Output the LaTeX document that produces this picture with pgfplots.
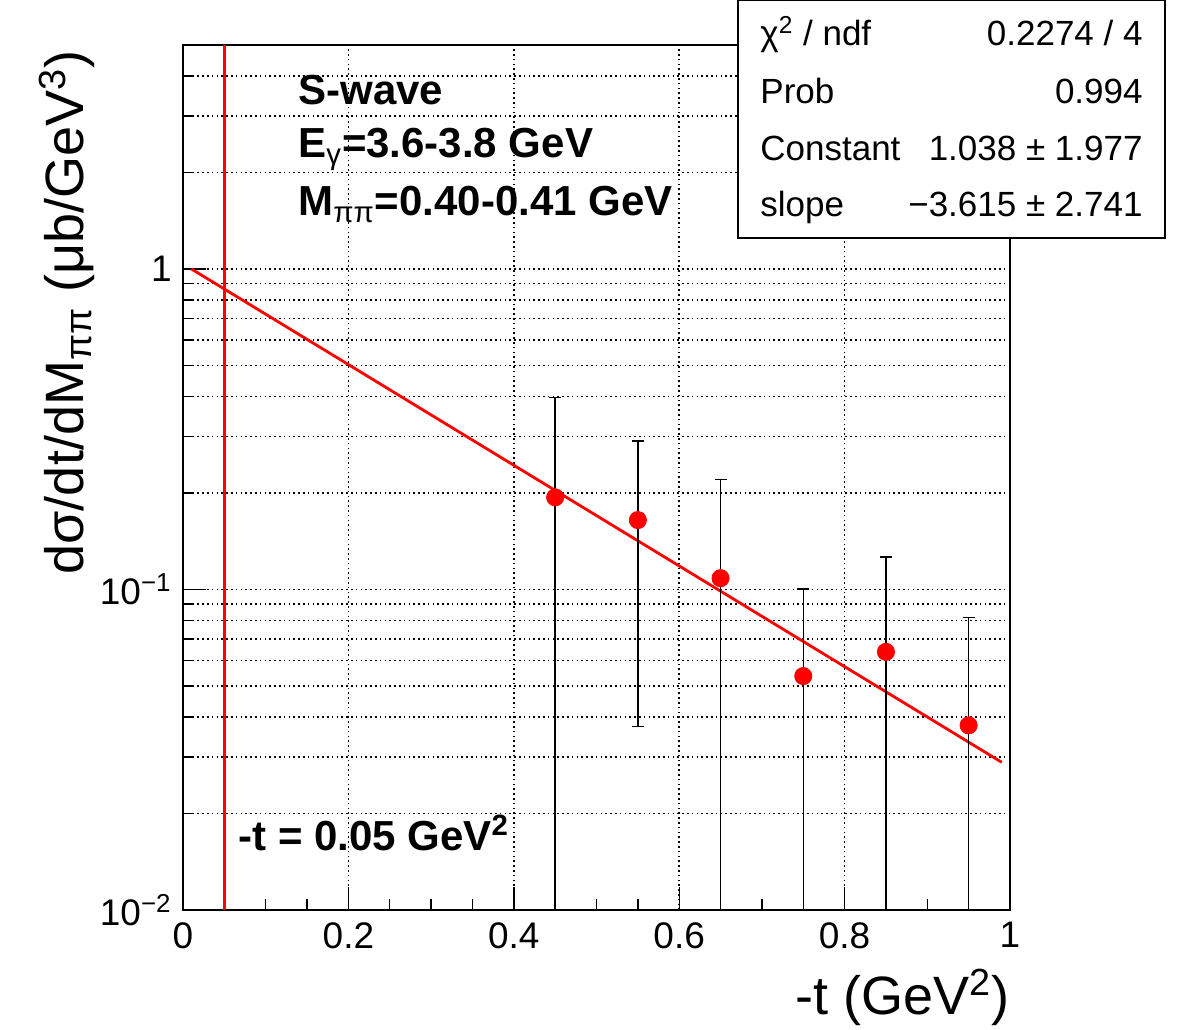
\documentclass[border=0pt]{standalone}
\usepackage{fontspec}
\setmainfont{Liberation Sans}
\usepackage{pgfplots}
\pgfplotsset{compat=1.18}

% -t bins, cross section, upper / lower errors (lower ends below the axis are clipped)
\usepackage{pgfplotstable}
\pgfplotstableread{
t     v       ep      em
0.45  0.1939  0.203   0.1929
0.55  0.1647  0.1255  0.1273
0.65  0.1085  0.1118  0.1075
0.75  0.0537  0.0465  0.0465
0.85  0.0639  0.0626  0.0629
0.95  0.0377  0.0441  0.0367
}\swave

\begin{document}
\begin{tikzpicture}
\useasboundingbox (-91.5pt,-59.5pt) rectangle (500pt,455pt);
\begin{axis}[
  scale only axis, width=413.5pt, height=432.5pt,
  xmin=0, xmax=1, ymin=0.01, ymax=5,
  ymode=log,
  xtick={0,0.2,0.4,0.6,0.8,1}, minor x tick num=3,
  ytick={0.01,0.1,1},
  yticklabels={10\textsuperscript{−2},10\textsuperscript{−1},1},
  minor ytick={0.02,0.03,0.04,0.05,0.06,0.07,0.08,0.09,0.2,0.3,0.4,0.5,0.6,0.7,0.8,0.9,2,3,4,5},
  tick align=inside, xtick pos=bottom, ytick pos=left,
  axis line style={line width=0.8pt},
  xtick style={black, line width=0.7pt},
  ytick style={black, line width=0.7pt},
  major tick length=11.5pt, minor tick length=5.5pt,
  xmajorgrids, ymajorgrids, yminorgrids,
  major grid style={black, line width=0.8pt, dash pattern=on 0.8pt off 1.6pt},
  minor grid style={black, line width=0.8pt, dash pattern=on 0.8pt off 1.6pt},
  tick label style={font=\fontsize{18.5}{18.5}\selectfont, inner sep=0pt},
  /pgf/number format/assume math mode=true,
  xticklabel shift=6pt, yticklabel shift=5.5pt,
  xlabel={-t (GeV\textsuperscript{2})},
  xlabel style={font=\fontsize{27}{27}\selectfont, at={(axis description cs:1,-0.101)}, anchor=east, inner sep=0pt},
  ylabel={dσ/dt/dM\textsubscript{ππ} (μb/GeV\textsuperscript{3})},
  ylabel style={font=\fontsize{27}{27}\selectfont, at={(axis description cs:-0.140,0.994)}, anchor=east, inner sep=0pt},
]
\addplot[red, line width=1.5pt] coordinates {(0.05,0.01) (0.05,5)};
\addplot[red, line width=1.4pt] coordinates {(0.01,1.001) (0.99,0.0289)};
\addplot[only marks, mark=*, mark size=4.3pt, red, mark options={draw=red, fill=red},
  error bars/.cd, y dir=both, y explicit,
  error bar style={black, line width=0.75pt},
  error mark options={rotate=90, mark size=3pt, black, line width=0.75pt}]
  table[x=t, y=v, y error plus=ep, y error minus=em] {\swave};

\begin{scope}[every node/.style={anchor=base west, inner sep=0pt, font=\bfseries\fontsize{21}{21}\selectfont}]
\node at (axis cs:0.139,3.262) {S-wave};
\node at (axis cs:0.139,2.223) {E\textsubscript{\normalfont γ}=3.6-3.8 GeV};
\node at (axis cs:0.139,1.465) {M\textsubscript{\normalfont ππ}=0.40-0.41 GeV};
\node at (axis cs:0.0665,0.01532) {-t = 0.05 GeV\textsuperscript{2}};
\end{scope}
\end{axis}

% fit statistics box
\filldraw[draw=black, fill=white, line width=0.8pt] (277.5pt,336pt) rectangle (491pt,455pt);
\begin{scope}[every node/.style={inner sep=0pt, font=\fontsize{17.5}{17.5}\selectfont}]
\node[anchor=base west] at (288.5pt,432pt) {χ\textsuperscript{2} / ndf};
\node[anchor=base east] at (480pt,432pt) {0.2274 / 4};
\node[anchor=base west] at (288.5pt,403pt) {Prob};
\node[anchor=base east] at (480pt,403pt) {0.994};
\node[anchor=base west] at (288.5pt,374.5pt) {Constant};
\node[anchor=base east] at (480pt,374.5pt) {1.038 ± 1.977};
\node[anchor=base west] at (288.5pt,346.5pt) {slope};
\node[anchor=base east] at (480pt,346.5pt) {−3.615 ± 2.741};
\end{scope}
\end{tikzpicture}
\end{document}
